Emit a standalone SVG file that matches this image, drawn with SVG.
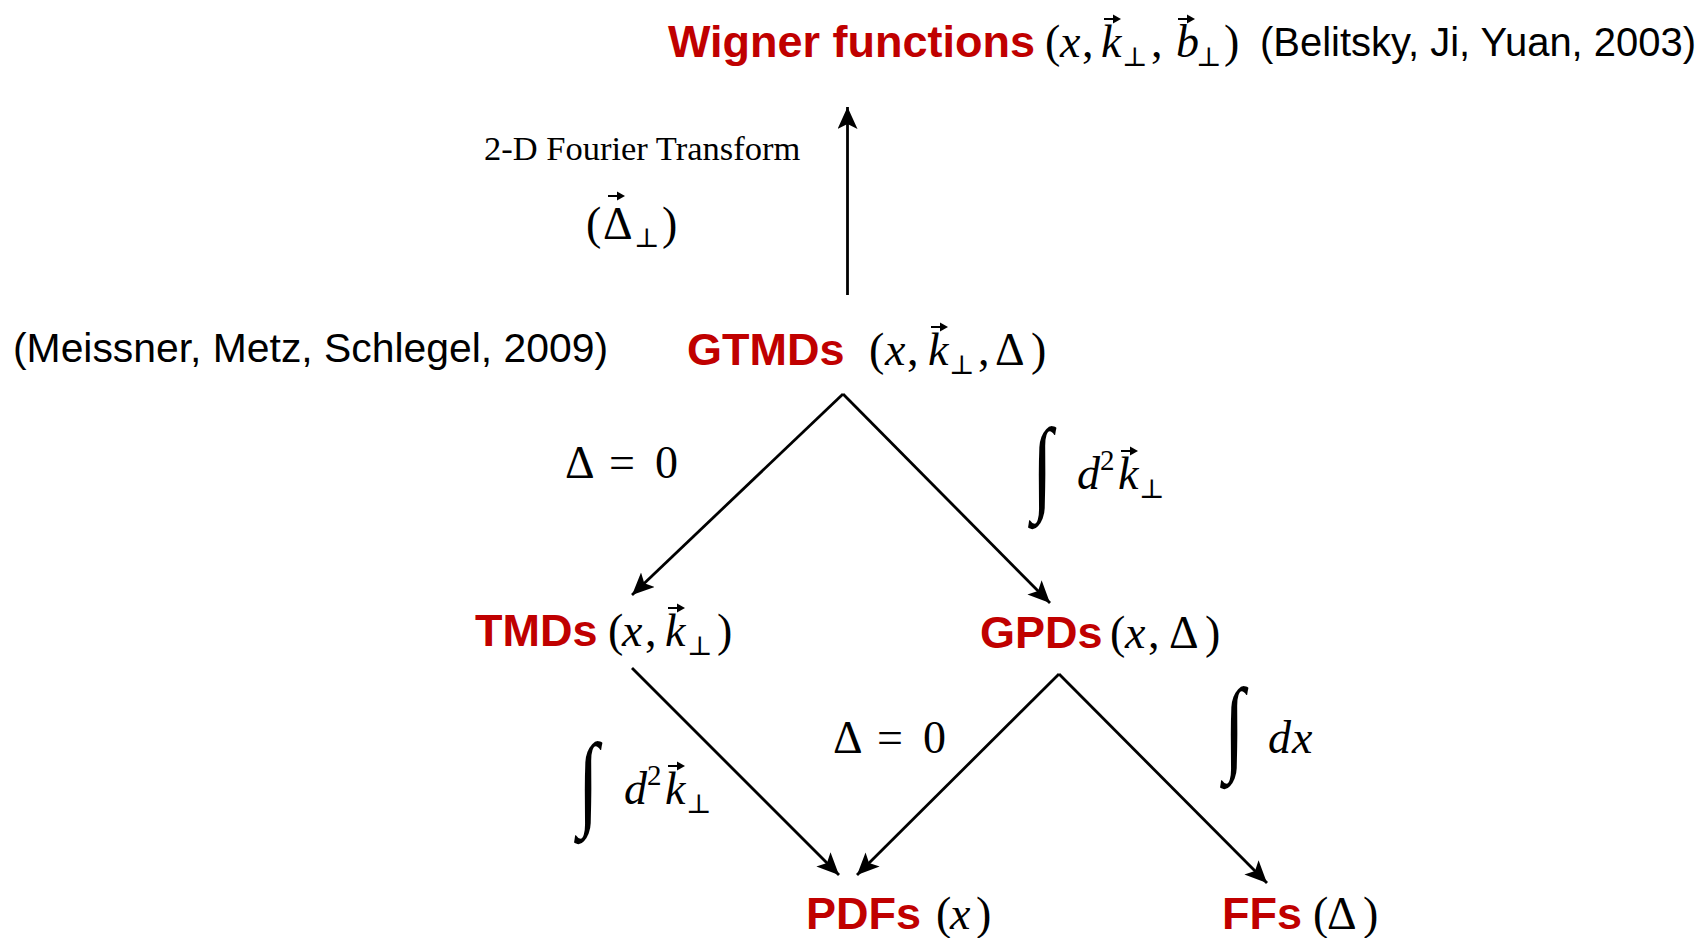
<svg xmlns="http://www.w3.org/2000/svg" xmlns:xlink="http://www.w3.org/1999/xlink" width="1703" height="938" viewBox="0 0 1703 938">
<style>
.lbl{font-family:"Liberation Sans",Arial,sans-serif;font-weight:bold;font-size:45px;fill:#c00000}
.ref{font-family:"Liberation Sans",Arial,sans-serif;font-size:40px;fill:#000}
.m{font-family:"Liberation Serif","Times New Roman",serif;font-size:46px;fill:#000}
.i{font-style:italic}
.sub{font-family:"DejaVu Serif",serif;font-size:27px}
.sup{font-size:29px}
.int{font-family:"Liberation Serif","Times New Roman",serif;font-size:100px}
.ser{font-family:"Liberation Serif","Times New Roman",serif;font-size:34.5px;fill:#000}
.c{stroke:#000;stroke-width:2.8;fill:none}
</style>
<defs>
<marker id="ah" markerUnits="userSpaceOnUse" markerWidth="26" markerHeight="22" refX="22" refY="10" orient="auto">
<path d="M0,0 L22,10 L0,20 L5,10 Z" fill="#000"/>
</marker>
<g id="vec"><path d="M0,0 H13" stroke="#000" stroke-width="2"/><path d="M9,-4.5 L17,0 L9,4.5 Z" fill="#000"/></g>
</defs>

<g id="connectors">
<line class="c" x1="847.5" y1="295" x2="847.5" y2="107" marker-end="url(#ah)"/>
<line class="c" x1="843" y1="394" x2="632" y2="595" marker-end="url(#ah)"/>
<line class="c" x1="843" y1="394" x2="1050" y2="603" marker-end="url(#ah)"/>
<line class="c" x1="632" y1="668" x2="839" y2="875" marker-end="url(#ah)"/>
<line class="c" x1="1059" y1="674" x2="857" y2="875" marker-end="url(#ah)"/>
<line class="c" x1="1059" y1="674" x2="1267" y2="883" marker-end="url(#ah)"/>
</g>

<g id="wigner">
<text class="lbl" x="668" y="57">Wigner functions</text>
<text class="m" y="57"><tspan x="1045">(</tspan><tspan class="i" x="1060">x</tspan><tspan x="1082">,</tspan><tspan class="i" x="1101">k</tspan><tspan class="sub" x="1122" y="66">⊥</tspan><tspan x="1151" y="57">,</tspan><tspan class="i" x="1176">b</tspan><tspan class="sub" x="1196" y="66">⊥</tspan><tspan x="1224" y="57">)</tspan></text>
<use xlink:href="#vec" x="1104" y="19"/>
<use xlink:href="#vec" x="1178" y="19"/>
<text class="ref" x="1260" y="56" textLength="436" lengthAdjust="spacingAndGlyphs">(Belitsky, Ji, Yuan, 2003)</text>
</g>

<g id="fourier">
<text class="ser" x="484" y="160">2-D Fourier Transform</text>
<text class="m" y="239"><tspan x="586">(</tspan><tspan x="603">Δ</tspan><tspan class="sub" x="634" y="247">⊥</tspan><tspan x="662" y="239">)</tspan></text>
<use xlink:href="#vec" x="608" y="196"/>
</g>

<g id="gtmds">
<text class="ref" x="13" y="362" textLength="595" lengthAdjust="spacingAndGlyphs">(Meissner, Metz, Schlegel, 2009)</text>
<text class="lbl" x="687" y="365">GTMDs</text>
<text class="m" y="365"><tspan x="869">(</tspan><tspan class="i" x="885">x</tspan><tspan x="907">,</tspan><tspan class="i" x="928">k</tspan><tspan class="sub" x="949" y="374">⊥</tspan><tspan x="978" y="365">,</tspan><tspan x="995">Δ</tspan><tspan x="1031">)</tspan></text>
<use xlink:href="#vec" x="931" y="327"/>
</g>

<g id="label-d0-top">
<text class="m" y="478"><tspan x="565">Δ</tspan><tspan x="609">=</tspan><tspan x="655">0</tspan></text>
</g>
<g id="label-int-k-right">
<text class="int" transform="translate(1032,501) scale(0.75,1.05)">∫</text>
<text class="m" y="489"><tspan class="i" x="1077">d</tspan><tspan class="sup" x="1100" y="470">2</tspan><tspan class="i" x="1118" y="489">k</tspan><tspan class="sub" x="1139" y="498">⊥</tspan></text>
<use xlink:href="#vec" x="1121" y="451"/>
</g>

<g id="tmds">
<text class="lbl" x="475" y="646">TMDs</text>
<text class="m" y="646"><tspan x="608">(</tspan><tspan class="i" x="622">x</tspan><tspan x="645">,</tspan><tspan class="i" x="665">k</tspan><tspan class="sub" x="687" y="655">⊥</tspan><tspan x="717" y="646">)</tspan></text>
<use xlink:href="#vec" x="668" y="608"/>
</g>

<g id="gpds">
<text class="lbl" x="980" y="648">GPDs</text>
<text class="m" y="648"><tspan x="1110">(</tspan><tspan class="i" x="1125">x</tspan><tspan x="1148">,</tspan><tspan x="1169">Δ</tspan><tspan x="1205">)</tspan></text>
</g>

<g id="label-int-k-left">
<text class="int" transform="translate(578,816) scale(0.75,1.05)">∫</text>
<text class="m" y="804"><tspan class="i" x="624">d</tspan><tspan class="sup" x="647" y="785">2</tspan><tspan class="i" x="665" y="804">k</tspan><tspan class="sub" x="686" y="813">⊥</tspan></text>
<use xlink:href="#vec" x="668" y="766"/>
</g>
<g id="label-d0-mid">
<text class="m" y="753"><tspan x="833">Δ</tspan><tspan x="877">=</tspan><tspan x="923">0</tspan></text>
</g>
<g id="label-int-dx">
<text class="int" transform="translate(1224,761) scale(0.75,1.05)">∫</text>
<text class="m i" y="753"><tspan x="1268">d</tspan><tspan x="1292">x</tspan></text>
</g>

<g id="pdfs">
<text class="lbl" x="806" y="929">PDFs</text>
<text class="m" y="929"><tspan x="936">(</tspan><tspan class="i" x="950">x</tspan><tspan x="976">)</tspan></text>
</g>
<g id="ffs">
<text class="lbl" x="1222" y="929">FFs</text>
<text class="m" y="929"><tspan x="1313">(</tspan><tspan x="1327">Δ</tspan><tspan x="1363">)</tspan></text>
</g>
</svg>
